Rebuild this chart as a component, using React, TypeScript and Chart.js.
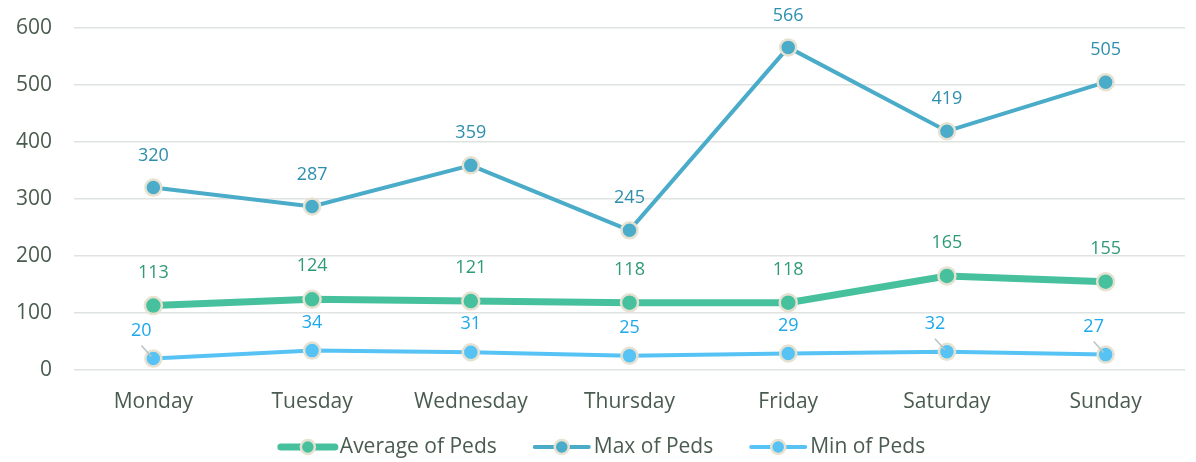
import React, { useEffect, useRef } from "react";
import { Chart, registerables } from "chart.js";

Chart.register(...registerables);

const categories = ["Monday", "Tuesday", "Wednesday", "Thursday", "Friday", "Saturday", "Sunday"];
const averageOfPeds = [113, 124, 121, 118, 118, 165, 155];
const maxOfPeds = [320, 287, 359, 245, 566, 419, 505];
const minOfPeds = [20, 34, 31, 25, 29, 32, 27];
const yTicks = [0, 100, 200, 300, 400, 500, 600];

const FONT = "'Open Sans', 'Noto Sans', sans-serif";
const TEXT = "#4A5C50";
const BEIGE = "#E6E1D0";

const seriesStyle = [
  { line: "#47C19D", label: "#2F9A78", width: 7, radius: 8.5, offset: 33, shift: [0, 0, 0, 0, 0, 0, 0] },
  { line: "#4AACC9", label: "#2E8FAD", width: 4, radius: 8, offset: 32, shift: [0, 0, 0, 0, 0, 0, 0] },
  { line: "#57C3F5", label: "#1EA8EE", width: 4, radius: 8, offset: 28, shift: [-12, 0, 0, 0, 0, -12, -12] },
];

const dataLabelPlugin = {
  id: "dataLabels",
  afterDatasetsDraw(chart: any) {
    const ctx = chart.ctx;
    ctx.save();
    ctx.font = `18px ${FONT}`;
    ctx.textAlign = "center";
    ctx.textBaseline = "middle";
    chart.data.datasets.forEach((ds: any, di: number) => {
      const meta = chart.getDatasetMeta(di);
      const st = seriesStyle[di];
      meta.data.forEach((pt: any, i: number) => {
        const dx = st.shift[i];
        const lx = pt.x + dx;
        const ly = pt.y - st.offset;
        if (dx !== 0) {
          ctx.strokeStyle = "#B7C5BF";
          ctx.lineWidth = 1.5;
          ctx.beginPath();
          ctx.moveTo(lx, ly + 15);
          ctx.lineTo(pt.x - 2, pt.y - 2);
          ctx.stroke();
        }
        ctx.fillStyle = st.label;
        ctx.fillText(String(ds.data[i]), lx, ly);
      });
    });
    ctx.restore();
  },
};

const legendPlugin = {
  id: "customLegend",
  afterDraw(chart: any) {
    const ctx = chart.ctx;
    ctx.save();
    ctx.font = `21px ${FONT}`;
    ctx.textBaseline = "middle";
    ctx.textAlign = "left";
    const lineW = 58;
    const gapText = 3;
    const gapItem = 36;
    const items = chart.data.datasets.map((ds: any, i: number) => ({
      text: ds.label,
      w: ctx.measureText(ds.label).width,
      st: seriesStyle[i],
    }));
    const total =
      items.reduce((a: number, it: any) => a + lineW + gapText + it.w, 0) + gapItem * (items.length - 1);
    let x = chart.width / 2 - total / 2 + 4;
    const y = 447;
    items.forEach((it: any) => {
      ctx.strokeStyle = it.st.line;
      ctx.lineWidth = it.st.width;
      ctx.lineCap = "round";
      ctx.beginPath();
      ctx.moveTo(x + 2, y);
      ctx.lineTo(x + lineW - 2, y);
      ctx.stroke();
      ctx.beginPath();
      ctx.arc(x + lineW / 2, y, 7, 0, Math.PI * 2);
      ctx.fillStyle = it.st.line;
      ctx.fill();
      ctx.lineWidth = 2.5;
      ctx.strokeStyle = BEIGE;
      ctx.stroke();
      ctx.fillStyle = TEXT;
      ctx.fillText(it.text, x + lineW + gapText, y);
      x += lineW + gapText + it.w + gapItem;
    });
    ctx.restore();
  },
};

export default function App() {
  const ref = useRef<HTMLCanvasElement | null>(null);
  useEffect(() => {
    if (!ref.current) return;
    const mk = (label: string, data: number[], i: number) => ({
      label,
      data,
      borderColor: seriesStyle[i].line,
      backgroundColor: seriesStyle[i].line,
      borderWidth: seriesStyle[i].width,
      pointRadius: seriesStyle[i].radius,
      pointBorderWidth: 2.5,
      pointBorderColor: BEIGE,
      pointBackgroundColor: seriesStyle[i].line,
      tension: 0,
    });
    const chart = new Chart(ref.current, {
      type: "line",
      data: {
        labels: categories,
        datasets: [
          mk("Average of Peds", averageOfPeds, 0),
          mk("Max of Peds", maxOfPeds, 1),
          mk("Min of Peds", minOfPeds, 2),
        ],
      },
      options: {
        responsive: false,
        animation: false,
        layout: { padding: { top: 28, right: 5, bottom: 42, left: 0 } },
        plugins: { legend: { display: false }, tooltip: { enabled: false } },
        scales: {
          x: {
            offset: true,
            grid: { display: false, drawTicks: false },
            border: { display: false },
            ticks: { color: TEXT, font: { family: FONT, size: 21 }, padding: 19 },
            afterFit: (s: any) => {
              s.height = 50;
              s.paddingLeft = 0;
              s.paddingRight = 0;
            },
          },
          y: {
            min: 0,
            max: 600,
            afterBuildTicks: (s: any) => {
              s.ticks = yTicks.map((v) => ({ value: v }));
            },
            grid: { color: "#DFE3E1", lineWidth: 1.5, drawTicks: false },
            border: { display: false },
            ticks: { color: TEXT, font: { family: FONT, size: 21 }, padding: 22 },
            afterFit: (s: any) => {
              s.width = 74;
              s.paddingTop = 0;
              s.paddingBottom = 0;
            },
          },
        },
      },
      plugins: [dataLabelPlugin, legendPlugin],
    });
    return () => chart.destroy();
  }, []);
  return (
    <div style={{ position: "absolute", left: 0, top: 0, width: 1196, height: 462, background: "#fff" }}>
      <canvas ref={ref} width={1196} height={462} />
    </div>
  );
}
